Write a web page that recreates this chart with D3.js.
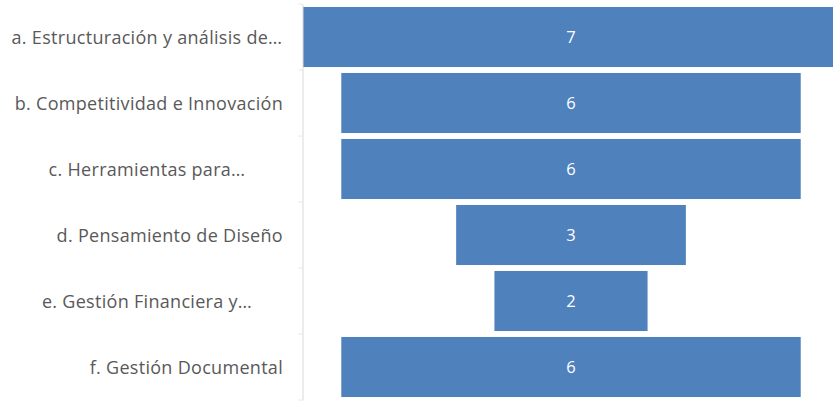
<!DOCTYPE html>
<html>
<head>
<meta charset="utf-8">
<script src="https://cdn.jsdelivr.net/npm/d3@7"></script>
<style>
html,body{margin:0;padding:0;background:#fff;}
svg{display:block;}
</style>
</head>
<body>
<svg id="chart" width="833" height="410"></svg>
<script>
const categories = [
  "a. Estructuración y análisis de…",
  "b. Competitividad e Innovación",
  "c. Herramientas para…",
  "d. Pensamiento de Diseño",
  "e. Gestión Financiera y…",
  "f. Gestión Documental"
];
const values = [7, 6, 6, 3, 2, 6];
const maxValue = 7;

const svg = d3.select("#chart");
const plotLeft = 303, plotRight = 839, plotTop = 4, plotBottom = 400;
const labelAreaLeft = 11, labelAreaRight = 283;

const x = d3.scaleLinear().domain([0, maxValue]).range([plotLeft, plotRight]);
const y = d3.scaleBand().domain(categories).range([plotTop, plotBottom])
  .paddingInner(0.09).paddingOuter(0.045);

const data = categories.map((c, i) => ({cat: c, v: values[i]}));

// bars (centered funnel: offset = (max - v)/2)
svg.append("g").selectAll("rect").data(data).join("rect")
  .attr("x", d => x((maxValue - d.v) / 2))
  .attr("y", d => y(d.cat))
  .attr("width", d => x(d.v) - x(0))
  .attr("height", y.bandwidth())
  .attr("fill", "#4F81BD");

// value labels
svg.append("g").selectAll("text").data(data).join("text")
  .attr("x", x(maxValue / 2))
  .attr("y", d => y(d.cat) + y.bandwidth() / 2)
  .attr("dy", "0.38em")
  .attr("text-anchor", "middle")
  .attr("fill", "#ffffff")
  .style("font-family", "'Open Sans', sans-serif")
  .style("font-size", "16.5px")
  .text(d => d.v);

// category axis
const axis = d3.axisLeft(y).tickSize(0).tickPadding(0);
const ag = svg.append("g").attr("transform", `translate(${plotLeft - 0.5},0)`).call(axis);
ag.select(".domain").attr("stroke", "#d9d9d9").attr("stroke-width", 1);
ag.selectAll(".tick line").remove();
ag.selectAll(".tick text")
  .attr("fill", "#595959")
  .attr("dy", "0.4em")
  .style("font-family", "'Open Sans', sans-serif")
  .style("font-size", "18px")
  .style("letter-spacing", "0.3px")
  .each(function(d) {
    const t = d3.select(this);
    if (d.endsWith("…")) {
      t.attr("text-anchor", "middle")
       .attr("x", (labelAreaLeft + labelAreaRight) / 2 - plotLeft + 0.5);
    } else {
      t.attr("text-anchor", "end").attr("x", labelAreaRight - plotLeft + 0.5);
    }
  });
// boundary tick marks
const bounds = d3.range(categories.length + 1).map(i => plotTop + i * y.step());
ag.selectAll(".btick").data(bounds).join("line")
  .attr("class", "btick")
  .attr("x1", -4).attr("x2", 0)
  .attr("y1", d => d).attr("y2", d => d)
  .attr("stroke", "#e6e6e6");
</script>
</body>
</html>
